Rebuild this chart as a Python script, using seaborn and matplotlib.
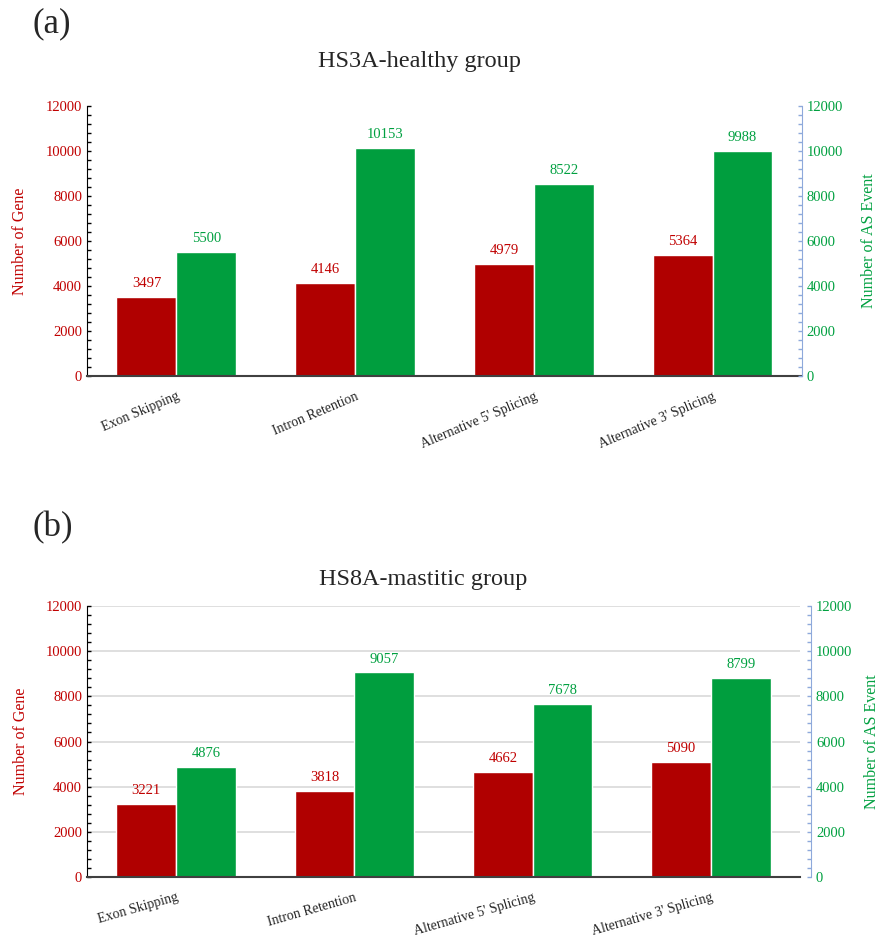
import pandas as pd
import matplotlib.pyplot as plt
import seaborn as sns
from matplotlib.ticker import MultipleLocator

# Alternative splicing counts
categories = ['Exon Skipping', 'Intron Retention', "Alternative 5' Splicing", "Alternative 3' Splicing"]
healthy_genes = [3497, 4146, 4979, 5364]
healthy_events = [5500, 10153, 8522, 9988]
mastitic_genes = [3221, 3818, 4662, 5090]
mastitic_events = [4876, 9057, 7678, 8799]

BAR_RED = '#B00000'
BAR_GREEN = '#009E3E'
TXT_RED = '#C00000'
TXT_GREEN = '#00A040'
BLUE = '#8EA9DB'

sns.set_style('white')
plt.rcParams['font.family'] = ['Liberation Serif', 'DejaVu Serif']


def draw_panel(ax, genes, events, grid, rot, right_offset, rlabel_x):
    df = pd.DataFrame({
        'type': categories * 2,
        'count': genes + events,
        'series': ['gene'] * 4 + ['event'] * 4,
    })
    sns.barplot(data=df, x='type', y='count', hue='series', order=categories,
                palette=[BAR_RED, BAR_GREEN], saturation=1, width=0.67, gap=0,
                legend=False, ax=ax, zorder=2)
    ax.set_ylim(0, 12000)
    ax.yaxis.set_major_locator(MultipleLocator(2000))
    ax.yaxis.set_minor_locator(MultipleLocator(400))
    ax.tick_params(axis='y', which='both', direction='in', length=3, width=1,
                   colors='black', labelcolor=TXT_RED, labelsize=10.5, left=True)
    ax.tick_params(axis='x', length=0, pad=10, labelsize=10)
    for lab in ax.get_xticklabels():
        lab.set_rotation(rot)
        lab.set_ha('right')
        lab.set_va('top')
        lab.set_rotation_mode('anchor')
    ax.set_xlabel('')
    ax.set_ylabel('Number of Gene', color=TXT_RED, fontsize=11.5)
    ax.yaxis.set_label_coords(-0.082, 0.5)
    for s in ['top', 'right']:
        ax.spines[s].set_visible(False)
    ax.spines['left'].set_color('black')
    ax.spines['bottom'].set_color('#404040')
    ax.spines['bottom'].set_linewidth(1.5)
    if grid:
        ax.yaxis.grid(True, color='#D9D9D9', linewidth=1.2, zorder=0)
        ax.set_axisbelow(True)
    ax.bar_label(ax.containers[0], labels=[str(v) for v in genes], padding=5,
                 color=TXT_RED, fontsize=10.5)
    ax.bar_label(ax.containers[1], labels=[str(v) for v in events], padding=5,
                 color=TXT_GREEN, fontsize=10.5)

    ax2 = ax.twinx()
    ax2.set_ylim(0, 12000)
    ax2.yaxis.set_major_locator(MultipleLocator(2000))
    ax2.yaxis.set_minor_locator(MultipleLocator(400))
    ax2.tick_params(axis='y', which='both', direction='in', length=3, width=1,
                    colors=BLUE, labelcolor=TXT_GREEN, labelsize=10.5, right=True)
    for s in ['top', 'left', 'bottom']:
        ax2.spines[s].set_visible(False)
    ax2.spines['right'].set_color(BLUE)
    ax2.spines['right'].set_position(('outward', right_offset))
    ax2.set_ylabel('Number of AS Event', color=TXT_GREEN, fontsize=11.5)
    ax2.yaxis.set_label_coords(rlabel_x, 0.5)
    ax2.grid(False)
    return ax2


fig = plt.figure(figsize=(8.83, 9.49), dpi=100)
ax_a = fig.add_axes([0.0985, 0.6038, 0.8097, 0.2845])
ax_b = fig.add_axes([0.0985, 0.0759, 0.8075, 0.2855])

draw_panel(ax_a, healthy_genes, healthy_events, grid=False, rot=23,
           right_offset=0, rlabel_x=1.082)
draw_panel(ax_b, mastitic_genes, mastitic_events, grid=True, rot=16,
           right_offset=8, rlabel_x=1.090)

fig.text(33 / 883, 1 - 24 / 949, '(a)', fontsize=25, va='center', ha='left')
fig.text(33 / 883, 1 - 528 / 949, '(b)', fontsize=25, va='center', ha='left')
fig.text(420 / 883, 1 - 62 / 949, 'HS3A-healthy group', fontsize=17.5,
         va='center', ha='center')
fig.text(423 / 883, 1 - 579 / 949, 'HS8A-mastitic group', fontsize=17.5,
         va='center', ha='center')

plt.savefig('out.png', dpi=100)
